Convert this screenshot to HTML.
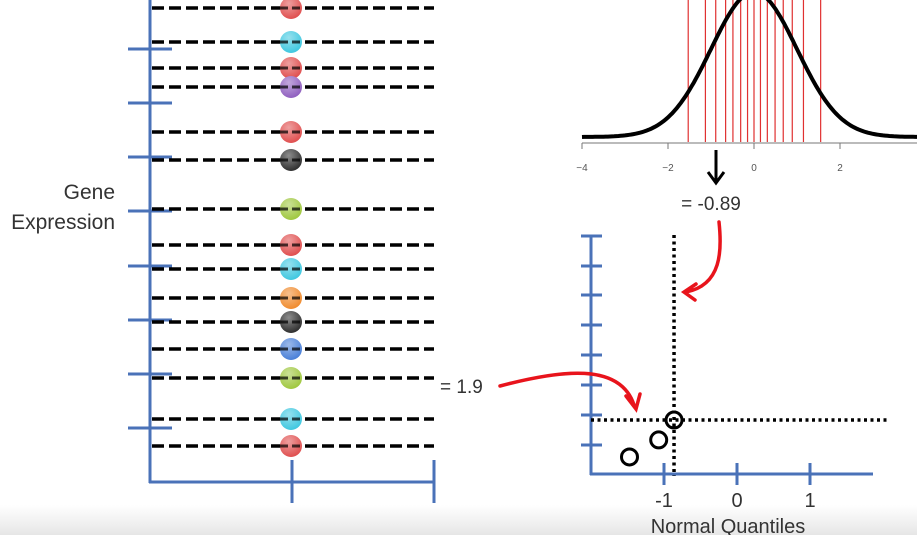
<!DOCTYPE html>
<html><head><meta charset="utf-8"><style>
html,body{margin:0;padding:0;background:#fff;}
svg{display:block;font-family:"Liberation Sans",sans-serif;}
</style></head><body>
<svg id="s" width="917" height="535" viewBox="0 0 917 535">
<defs>
<linearGradient id="bot" x1="0" y1="0" x2="0" y2="1"><stop offset="0" stop-color="#fff"/><stop offset="1" stop-color="#e6e6e6"/></linearGradient>
<radialGradient id="shine" cx="0.4" cy="0.3" r="0.7"><stop offset="0" stop-color="#fff" stop-opacity="0.45"/><stop offset="1" stop-color="#fff" stop-opacity="0"/></radialGradient>
</defs>
<rect x="0" y="505" width="917" height="30" fill="url(#bot)"/>
<g id="left"></g>
<g id="bell"></g>
<g id="qq"></g>
</svg>
<script>
const rowValues=[8,42,68,87,132,160,209,245,269,298,322,349,378,419,446];
const rowColors=["#e05050","#40c8e0","#e05050","#9060c0","#e05050","#303030","#a0c840","#e05050","#40c8e0","#f08c30","#303030","#4a80d8","#a0c840","#40c8e0","#e05050"];
const quantiles=[-1.53,-1.13,-0.89,-0.66,-0.49,-0.31,-0.15,0.0,0.15,0.31,0.49,0.68,0.89,1.15,1.55];
const bellTicks=[-4,-2,0,2];
const qqX=[-1.5,-1.1,-0.89];
const qqY=[0.6,1.2,1.9];
const qqXTicks=[-1,0,1];
const NS="http://www.w3.org/2000/svg";
function mk(p,t,a,txt){const e=document.createElementNS(NS,t);for(const k in a)e.setAttribute(k,a[k]);if(txt!==undefined)e.textContent=txt;p.appendChild(e);return e;}
const L=document.getElementById('left');
const blue="#4a72b8";
let e=mk(L,'line',{x1:150,y1:0,x2:150,y2:483,stroke:blue,'stroke-width':3});

e=mk(L,'line',{x1:149,y1:482,x2:434,y2:482,stroke:blue,'stroke-width':3});

[292,434].forEach(x=>{e=mk(L,'line',{x1:x,y1:460,x2:x,y2:503,stroke:blue,'stroke-width':3});
});
[49,103,157,211,266,320,374,428].forEach(y=>{e=mk(L,'line',{x1:128,y1:y,x2:172,y2:y,stroke:blue,'stroke-width':3});
});
rowValues.forEach((y,i)=>{
 e=mk(L,'line',{x1:152,y1:y,x2:434,y2:y,stroke:'#000','stroke-width':3.5,'stroke-dasharray':'12 5'});
 
 e=mk(L,'circle',{cx:291,cy:y,r:11,fill:rowColors[i]});
 
 mk(L,'circle',{cx:291,cy:y,r:11,fill:'url(#shine)'});
 mk(L,'line',{x1:280,y1:y,x2:302,y2:y,stroke:'#000','stroke-width':3,'stroke-dasharray':'8 4',opacity:0.7});
});
e=mk(L,'text',{x:115,y:199,'text-anchor':'end','font-size':21,fill:'#333'},'Gene');

e=mk(L,'text',{x:115,y:229,'text-anchor':'end','font-size':21,fill:'#333'},'Expression');

e=mk(L,'text',{x:440,y:393,'font-size':19,fill:'#333'},'= 1.9');

const B=document.getElementById('bell');
const bx=v=>754+43*v, base=137, H=145;
const pdf=v=>Math.exp(-v*v/2);
quantiles.forEach(q=>{e=mk(B,'line',{x1:bx(q),y1:0,x2:bx(q),y2:142,stroke:'#e03030','stroke-width':1.2});
});
let d='';for(let v=-4;v<=3.9;v+=0.05){d+=(d?'L':'M')+bx(v).toFixed(1)+','+(base-H*pdf(v)).toFixed(1);}
e=mk(B,'path',{d:d,fill:'none',stroke:'#000','stroke-width':4});

e=mk(B,'line',{x1:582,y1:143,x2:917,y2:143,stroke:'#777','stroke-width':1});

bellTicks.forEach(t=>{mk(B,'line',{x1:bx(t),y1:143,x2:bx(t),y2:149,stroke:'#777'});
e=mk(B,'text',{x:bx(t),y:171,'text-anchor':'middle','font-size':10,fill:'#555'},t<0?'\u2212'+(-t):String(t));
});
e=mk(B,'path',{d:'M716,150 L716,181 M708,172 L716,183 L724,172',fill:'none',stroke:'#000','stroke-width':3});

e=mk(B,'text',{x:711,y:210,'text-anchor':'middle','font-size':19,fill:'#333'},'= -0.89');

const Q=document.getElementById('qq');
const qx=v=>739+73*v;
const qyy=v=>474-v*28.4;
e=mk(Q,'line',{x1:591,y1:235,x2:591,y2:475,stroke:blue,'stroke-width':3});

e=mk(Q,'line',{x1:590,y1:474,x2:873,y2:474,stroke:blue,'stroke-width':3});

[236,266,295,325,355,385,415,445].forEach(y=>{e=mk(Q,'line',{x1:581,y1:y,x2:602,y2:y,stroke:blue,'stroke-width':3});
});
qqXTicks.forEach(t=>{e=mk(Q,'line',{x1:qx(t)-2,y1:463,x2:qx(t)-2,y2:485,stroke:blue,'stroke-width':3});

e=mk(Q,'text',{x:qx(t)-2,y:507,'text-anchor':'middle','font-size':20,fill:'#333'},String(t));
});
e=mk(Q,'text',{x:728,y:533,'text-anchor':'middle','font-size':20,fill:'#333'},'Normal Quantiles');

const lx=qx(qqX[2]), ly=qyy(qqY[2]);
e=mk(Q,'line',{x1:lx,y1:235,x2:lx,y2:476,stroke:'#000','stroke-width':3.5,'stroke-dasharray':'3 3.5'});

e=mk(Q,'line',{x1:591,y1:ly,x2:888,y2:ly,stroke:'#000','stroke-width':3.5,'stroke-dasharray':'3 3.5'});

qqX.forEach((v,i)=>{e=mk(Q,'circle',{cx:qx(v),cy:qyy(qqY[i]),r:8,fill:'none',stroke:'#000','stroke-width':3});
});
e=mk(Q,'path',{d:'M719,222 C722,250 722,285 686,292 M696,284 L684,292 L695,300',fill:'none',stroke:'#e8141c','stroke-width':3.5,'stroke-linecap':'round'});

e=mk(Q,'path',{d:'M500,386 C560,370 620,362 634,405 M626,396 L636,409 L640,394',fill:'none',stroke:'#e8141c','stroke-width':3.5,'stroke-linecap':'round'});

</script>
</body></html>
